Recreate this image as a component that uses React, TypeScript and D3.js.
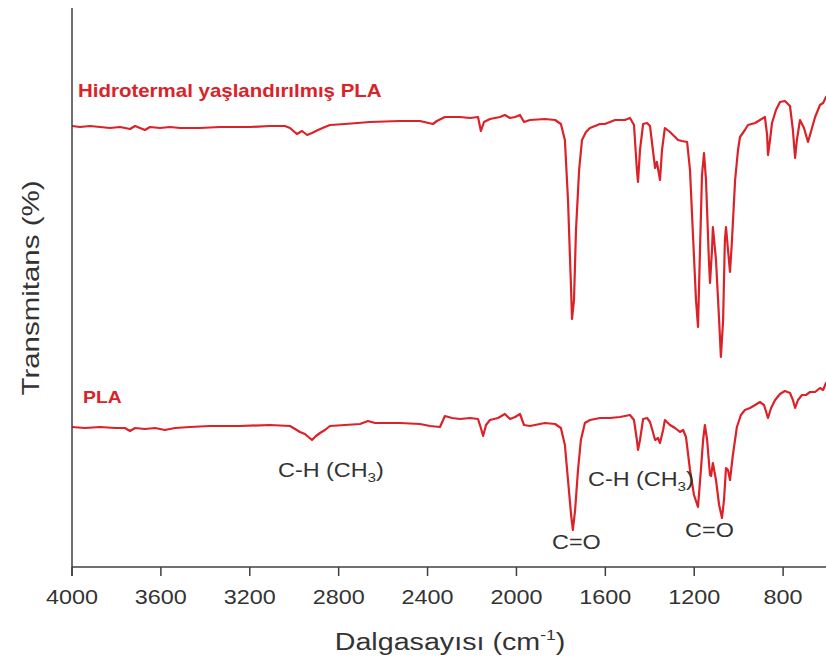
import React from "react";
import * as d3 from "d3";

// Hydrothermally aged PLA spectrum (wavenumber cm-1, transmittance, offset)
const agedWavenumbers = [
  4000, 3964, 3919, 3874, 3829, 3784, 3739, 3716, 3694, 3672, 3649, 3604, 3559, 3514, 3424, 3334, 3199, 3109,
  3042, 3019, 2988, 2965, 2942, 2920, 2893, 2862, 2839, 2772, 2659, 2524, 2434, 2376, 2358, 2322, 2254, 2209,
  2173, 2160, 2146, 2119, 2074, 2052, 2029, 2006, 1984, 1966, 1939, 1872, 1826, 1800, 1782, 1768, 1754, 1750,
  1741, 1732, 1718, 1705, 1687, 1669, 1624, 1602, 1556, 1512, 1489, 1471, 1458, 1453, 1444, 1430, 1412, 1399,
  1386, 1376, 1368, 1354, 1345, 1332, 1309, 1286, 1273, 1255, 1232, 1219, 1206, 1192, 1183, 1174, 1165, 1156,
  1147, 1134, 1129, 1120, 1116, 1102, 1088, 1080, 1070, 1062, 1057, 1048, 1039, 1030, 1016, 1003, 994, 972,
  958, 926, 904, 882, 872, 868, 859, 850, 832, 814, 792, 769, 756, 746, 738, 724, 706, 688, 670, 656, 634,
  620, 607,
];
const agedTransmittance = [
  88.2, 88.0, 88.2, 88.0, 87.8, 88.0, 87.6, 88.2, 87.8, 87.4, 88.0, 87.8, 88.0, 87.8, 87.8, 88.0, 88.0, 88.2,
  88.2, 87.8, 86.6, 87.2, 86.4, 86.8, 87.4, 88.0, 88.4, 88.6, 89.0, 89.2, 89.2, 88.6, 89.2, 90.0, 90.0, 89.8,
  90.0, 87.2, 89.0, 89.6, 90.0, 90.4, 89.8, 90.0, 90.4, 89.0, 89.4, 89.6, 89.4, 88.6, 85.4, 73.4, 55.4, 49.6,
  53.4, 67.4, 79.4, 85.4, 87.0, 87.8, 88.6, 88.6, 89.4, 89.4, 89.8, 88.4, 79.4, 77.0, 83.4, 88.6, 88.8, 88.2,
  83.4, 79.8, 81.0, 77.4, 83.4, 87.8, 87.0, 86.0, 85.4, 85.2, 85.0, 79.4, 66.8, 53.4, 48.0, 63.4, 78.4, 82.8,
  77.4, 61.4, 56.8, 63.4, 68.0, 61.4, 49.4, 42.0, 49.4, 65.4, 68.0, 63.4, 59.0, 65.4, 77.4, 83.4, 86.0, 87.4,
  88.4, 88.8, 89.4, 90.0, 86.4, 82.4, 85.4, 88.8, 91.4, 93.0, 93.2, 92.2, 87.4, 81.8, 85.4, 89.4, 87.8, 85.0,
  87.8, 90.0, 92.4, 92.8, 94.0,
];

// Neat PLA spectrum
const plaWavenumbers = [
  4000, 3942, 3874, 3806, 3762, 3739, 3716, 3672, 3626, 3582, 3536, 3469, 3379, 3244, 3109, 3019, 2996, 2974,
  2952, 2920, 2902, 2884, 2862, 2839, 2772, 2704, 2668, 2636, 2524, 2434, 2389, 2344, 2322, 2290, 2254, 2209,
  2173, 2160, 2150, 2137, 2119, 2083, 2052, 2029, 2006, 1984, 1966, 1939, 1872, 1826, 1800, 1782, 1768, 1754,
  1746, 1736, 1723, 1710, 1692, 1669, 1624, 1579, 1534, 1489, 1471, 1458, 1453, 1444, 1430, 1412, 1399, 1386,
  1376, 1363, 1354, 1340, 1332, 1309, 1286, 1264, 1250, 1237, 1219, 1201, 1183, 1170, 1160, 1152, 1142, 1129,
  1124, 1116, 1102, 1088, 1075, 1066, 1057, 1048, 1039, 1026, 1008, 990, 972, 949, 926, 904, 886, 868, 854,
  836, 814, 792, 769, 756, 746, 733, 715, 697, 679, 656, 634, 620, 607,
];
const plaTransmittance = [
  28.0, 27.8, 28.0, 27.8, 27.8, 27.2, 27.8, 27.6, 27.8, 27.4, 27.8, 28.0, 28.2, 28.2, 28.4, 28.2, 27.6, 27.0,
  26.6, 25.4, 26.2, 26.8, 27.4, 28.2, 28.4, 28.6, 29.2, 28.8, 28.8, 28.6, 28.2, 28.0, 30.2, 29.8, 29.6, 29.8,
  29.6, 27.8, 26.2, 28.4, 29.4, 29.8, 30.6, 29.6, 30.0, 30.6, 28.4, 28.2, 28.8, 28.6, 27.8, 24.4, 17.4, 10.4,
  7.4, 11.4, 19.4, 25.4, 28.8, 29.4, 29.8, 29.8, 30.0, 30.4, 29.4, 25.4, 23.4, 25.4, 29.6, 29.8, 29.0, 27.0,
  25.4, 25.8, 24.8, 27.4, 29.4, 28.4, 27.8, 27.0, 27.4, 26.0, 19.4, 14.4, 12.0, 19.4, 25.4, 28.4, 25.4, 18.4,
  18.2, 20.8, 17.4, 12.4, 9.8, 13.4, 19.8, 19.4, 17.4, 22.4, 28.0, 30.4, 31.4, 31.8, 32.4, 33.0, 32.4, 29.8, 31.8,
  33.4, 34.6, 35.2, 34.8, 33.4, 31.8, 33.4, 34.4, 34.4, 35.0, 35.0, 35.8, 35.4, 36.8,
];

const xTickValues = [4000, 3600, 3200, 2800, 2400, 2000, 1600, 1200, 800];

// Series names and band annotations (anchored in data units)
const seriesLabels = ["Hidrotermal yaşlandırılmış PLA", "PLA"];
const seriesLabelWavenumbers = [3973, 3950];
const seriesLabelLevels = [94.0, 32.8];

const bandMain = ["C-H (CH", "C=O", "C-H (CH", "C=O"];
const bandSub = ["3", "", "3", ""];
const bandWavenumbers = [3073, 1840, 1678, 1241];
const bandLevels = [18.0, 3.6, 16.2, 6.0];

const FONT = "'Liberation Sans', Arial, Helvetica, sans-serif";
const RED = "#dc2229";
const AXIS = "#3f3f3f";
const TEXT = "#333333";

export default function App() {
  const W = 826;
  const H = 664;
  const left = 72;
  const right = 826;
  const bottom = 567;
  const top = 8;

  const x = d3.scaleLinear().domain([4000, 607]).range([left, right]);
  const y = d3.scaleLinear().domain([0, 111.8]).range([bottom, top]);

  const line = d3
    .line<[number, number]>()
    .x((d) => x(d[0]))
    .y((d) => y(d[1]))
    .curve(d3.curveLinear);

  const aged = agedWavenumbers.map((w, i) => [w, agedTransmittance[i]] as [number, number]);
  const pla = plaWavenumbers.map((w, i) => [w, plaTransmittance[i]] as [number, number]);

  const sx = 1.17;

  return (
    <svg
      width={W}
      height={H}
      viewBox={`0 0 ${W} ${H}`}
      style={{ position: "absolute", left: 0, top: 0, background: "#fff" }}
      fontFamily={FONT}
    >
      <rect x={0} y={0} width={W} height={H} fill="#fff" />
      <defs>
        <clipPath id="plotClip">
          <rect x={left} y={0} width={right - left} height={bottom} />
        </clipPath>
      </defs>

      {/* spectra */}
      <g clipPath="url(#plotClip)" fill="none" strokeLinejoin="round" strokeLinecap="round">
        <path d={line(aged) || ""} stroke={RED} strokeWidth={2.2} />
        <path d={line(pla) || ""} stroke={RED} strokeWidth={2.2} />
      </g>

      {/* axes */}
      <line x1={left} x2={left} y1={top} y2={bottom + 9} stroke={AXIS} strokeWidth={1.5} />
      <line x1={left} x2={right} y1={bottom} y2={bottom} stroke={AXIS} strokeWidth={1.5} />
      {xTickValues.map((t) => {
        const label = String(t);
        return (
          <g key={t}>
            <line x1={x(t)} x2={x(t)} y1={bottom} y2={bottom + 9} stroke={AXIS} strokeWidth={1.5} />
            <text
              x={x(t)}
              y={604}
              textAnchor="middle"
              fontSize={21}
              fill={TEXT}
              textLength={label.length * 13}
              lengthAdjust="spacingAndGlyphs"
            >
              {label}
            </text>
          </g>
        );
      })}

      {/* axis titles */}
      <text transform={`translate(450,650) scale(${sx},1)`} textAnchor="middle" fontSize={24.5} fill={TEXT}>
        Dalgasayısı (cm
        <tspan fontSize={15} dy={-10}>
          -1
        </tspan>
        <tspan dy={10}>)</tspan>
      </text>
      <text
        transform="translate(39,288) rotate(-90)"
        textAnchor="middle"
        fontSize={24}
        fill={TEXT}
        textLength={215}
        lengthAdjust="spacingAndGlyphs"
      >
        Transmitans (%)
      </text>

      {/* series labels */}
      {seriesLabels.map((s, i) => (
        <text
          key={s}
          transform={`translate(${x(seriesLabelWavenumbers[i])},${y(seriesLabelLevels[i])}) scale(${sx},1)`}
          fontSize={i === 0 ? 17.5 : 16.5}
          fontWeight="bold"
          fill={RED}
        >
          {s}
        </text>
      ))}

      {/* band annotations */}
      {bandMain.map((s, i) => (
        <text
          key={i}
          transform={`translate(${x(bandWavenumbers[i])},${y(bandLevels[i])}) scale(${sx},1)`}
          fontSize={20}
          fill={TEXT}
        >
          {s}
          {bandSub[i] ? (
            <>
              <tspan fontSize={13} dy={5}>
                {bandSub[i]}
              </tspan>
              <tspan dy={-5}>)</tspan>
            </>
          ) : null}
        </text>
      ))}
    </svg>
  );
}
